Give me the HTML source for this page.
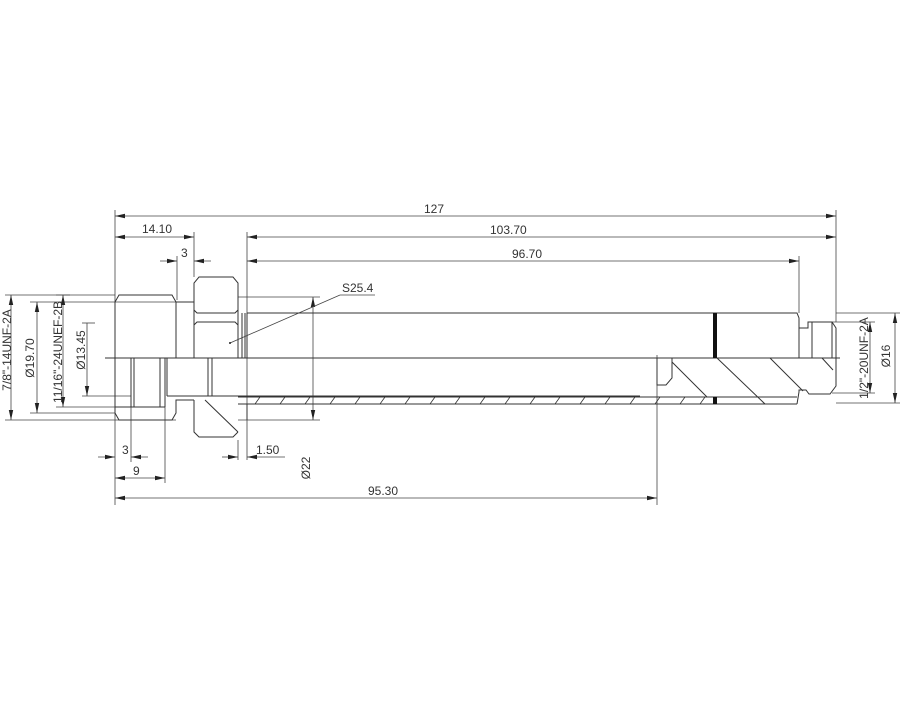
<!DOCTYPE html>
<html><head><meta charset="utf-8"><style>
html,body{margin:0;padding:0;background:#fff;}
svg{display:block}
text{font-family:"Liberation Sans",sans-serif;font-size:12px;fill:#333;}
.r{text-anchor:middle}
</style></head><body>
<svg width="900" height="711" viewBox="0 0 900 711" xmlns="http://www.w3.org/2000/svg">
<defs>
<marker id="a" markerWidth="10" markerHeight="6" refX="10" refY="3" orient="auto-start-reverse" markerUnits="userSpaceOnUse"><path d="M0,0.8 L10,3 L0,5.2z" fill="#222"/></marker>
</defs>
<g stroke="#444" stroke-width="0.8" fill="none">
<line x1="115" y1="210" x2="115" y2="505"/>
<line x1="836" y1="210" x2="836" y2="322"/>
<line x1="194" y1="232" x2="194" y2="277"/>
<line x1="247" y1="232" x2="247" y2="460"/>
<line x1="238" y1="440" x2="238" y2="460"/>
<line x1="177" y1="256" x2="177" y2="300"/>
<line x1="799" y1="256" x2="799" y2="313"/>
<line x1="657" y1="355" x2="657" y2="505"/>
<line x1="131" y1="400" x2="131" y2="462"/>
<line x1="165" y1="405" x2="165" y2="483"/>
<line x1="238" y1="297" x2="320" y2="297"/>
<line x1="238" y1="420" x2="320" y2="420"/>
<line x1="836" y1="313" x2="900" y2="313"/>
<line x1="836" y1="403" x2="900" y2="403"/>
<line x1="832" y1="322" x2="875" y2="322"/>
<line x1="832" y1="393" x2="875" y2="393"/>
<line x1="5" y1="295" x2="115" y2="295"/>
<line x1="5" y1="420" x2="176" y2="420"/>
<line x1="30" y1="302" x2="176" y2="302"/>
<line x1="30" y1="413" x2="115" y2="413"/>
<line x1="56" y1="295" x2="70" y2="295"/>
<line x1="56" y1="407" x2="131" y2="407"/>
<line x1="82" y1="323" x2="95" y2="323"/>
<line x1="82" y1="396" x2="131" y2="396"/>
<line x1="115" y1="216" x2="836" y2="216" marker-start="url(#a)" marker-end="url(#a)"/>
<line x1="115" y1="237" x2="194" y2="237" marker-start="url(#a)" marker-end="url(#a)"/>
<line x1="247" y1="237" x2="836" y2="237" marker-start="url(#a)" marker-end="url(#a)"/>
<line x1="247" y1="261" x2="799" y2="261" marker-start="url(#a)" marker-end="url(#a)"/>
<line x1="160" y1="261" x2="177" y2="261" marker-end="url(#a)"/>
<line x1="211" y1="261" x2="194" y2="261" marker-end="url(#a)"/>
<line x1="98" y1="457" x2="115" y2="457" marker-end="url(#a)"/>
<line x1="148" y1="457" x2="131" y2="457" marker-end="url(#a)"/>
<line x1="115" y1="478" x2="165" y2="478" marker-start="url(#a)" marker-end="url(#a)"/>
<line x1="222" y1="457" x2="238" y2="457" marker-end="url(#a)"/>
<line x1="285" y1="457" x2="247" y2="457" marker-end="url(#a)"/>
<line x1="115" y1="498" x2="657" y2="498" marker-start="url(#a)" marker-end="url(#a)"/>
<line x1="313" y1="297" x2="313" y2="420" marker-start="url(#a)" marker-end="url(#a)"/>
<line x1="895" y1="313" x2="895" y2="403" marker-start="url(#a)" marker-end="url(#a)"/>
<line x1="870" y1="322" x2="870" y2="393" marker-start="url(#a)" marker-end="url(#a)"/>
<line x1="11" y1="295" x2="11" y2="420" marker-start="url(#a)" marker-end="url(#a)"/>
<line x1="37" y1="302" x2="37" y2="413" marker-start="url(#a)" marker-end="url(#a)"/>
<line x1="63" y1="295" x2="63" y2="407" marker-start="url(#a)" marker-end="url(#a)"/>
<line x1="87" y1="323" x2="87" y2="396" marker-end="url(#a)"/>
<line x1="230" y1="343" x2="340" y2="295"/>
<line x1="340" y1="295" x2="375" y2="295"/>
</g>
<circle cx="230" cy="343" r="1" fill="#222"/>
<g stroke="#333" stroke-width="1" fill="none">
<line x1="105" y1="358" x2="840" y2="358"/>
<path d="M176,358 V302 L172,295 H119 L115,302 V358"/>
<path d="M115,358 V413 L119,420 H172 L176,413 V400 H194"/>
<line x1="131" y1="358" x2="131" y2="407"/><line x1="134" y1="358" x2="134" y2="407"/>
<line x1="160" y1="358" x2="160" y2="407"/><line x1="165" y1="358" x2="165" y2="407"/>
<line x1="115" y1="407" x2="165" y2="407"/>
<line x1="176" y1="302" x2="194" y2="302"/>
<line x1="167" y1="358" x2="167" y2="396"/>
<line x1="167" y1="396" x2="640" y2="396"/>
<path d="M194,358 V283 L199,277 H233 L238,283 V358"/>
<path d="M194,400 V432 L199,437 H233 L238,432"/>
<path d="M194,310 L197,313 H235 L238,310"/>
<path d="M194,325 L197,322 H235 L238,325"/>
<line x1="205" y1="400" x2="238" y2="432"/>
<line x1="208" y1="358" x2="208" y2="396"/><line x1="212" y1="358" x2="212" y2="396"/>
<line x1="242" y1="313" x2="242" y2="358"/><line x1="245" y1="313" x2="245" y2="358"/>
<path d="M247,313 H797 L799,318 V358"/>
<line x1="247" y1="313" x2="247" y2="358"/>
<line x1="238" y1="397" x2="797" y2="397"/>
<line x1="238" y1="404" x2="797" y2="404"/>
<line x1="247" y1="404" x2="247" y2="420"/>
<path d="M799,328 H808 V322 H832 L836,328 V358"/>
<line x1="812" y1="322" x2="812" y2="358"/>
<line x1="832" y1="322" x2="832" y2="358"/>
<path d="M797,404 L799,392 V390 H806 L809,394 H830 L836,386 V358"/>
<path d="M657,358 V385 H666 L672,378 V358"/>
<line x1="672" y1="362" x2="707" y2="397"/>
<line x1="717" y1="358" x2="765" y2="404"/>
<line x1="770" y1="358" x2="803" y2="391"/>
<line x1="822" y1="358" x2="833" y2="370"/>
</g>
<g stroke="#333" stroke-width="0.8">
<path d="M255,404l5,-7M280,404l5,-7M305,404l5,-7M330,404l5,-7M355,404l5,-7M380,404l5,-7M405,404l5,-7M430,404l5,-7M455,404l5,-7M480,404l5,-7M505,404l5,-7M530,404l5,-7M555,404l5,-7M580,404l5,-7M605,404l5,-7M630,404l5,-7M655,404l5,-7M680,404l5,-7M700,404l5,-7"/>
</g>
<rect x="713" y="313" width="4" height="45" fill="#111"/>
<rect x="713" y="397" width="4" height="7" fill="#111"/>
<text x="142" y="233">14.10</text>
<text x="181" y="257">3</text>
<text x="424" y="213">127</text>
<text x="490" y="234">103.70</text>
<text x="512" y="258">96.70</text>
<text x="342" y="292">S25.4</text>
<text x="122" y="454">3</text>
<text x="133" y="475">9</text>
<text x="256" y="454">1.50</text>
<text x="368" y="495">95.30</text>
<text class="r" transform="translate(310,468) rotate(-90)">Ø22</text>
<text class="r" transform="translate(890,356) rotate(-90)">Ø16</text>
<text class="r" transform="translate(868,358) rotate(-90)">1/2"-20UNF-2A</text>
<text class="r" transform="translate(11,350) rotate(-90)">7/8"-14UNF-2A</text>
<text class="r" transform="translate(34,358) rotate(-90)">Ø19.70</text>
<text class="r" transform="translate(62,352) rotate(-90)">11/16"-24UNEF-2B</text>
<text class="r" transform="translate(85,350) rotate(-90)">Ø13.45</text>
</svg>
</body></html>
